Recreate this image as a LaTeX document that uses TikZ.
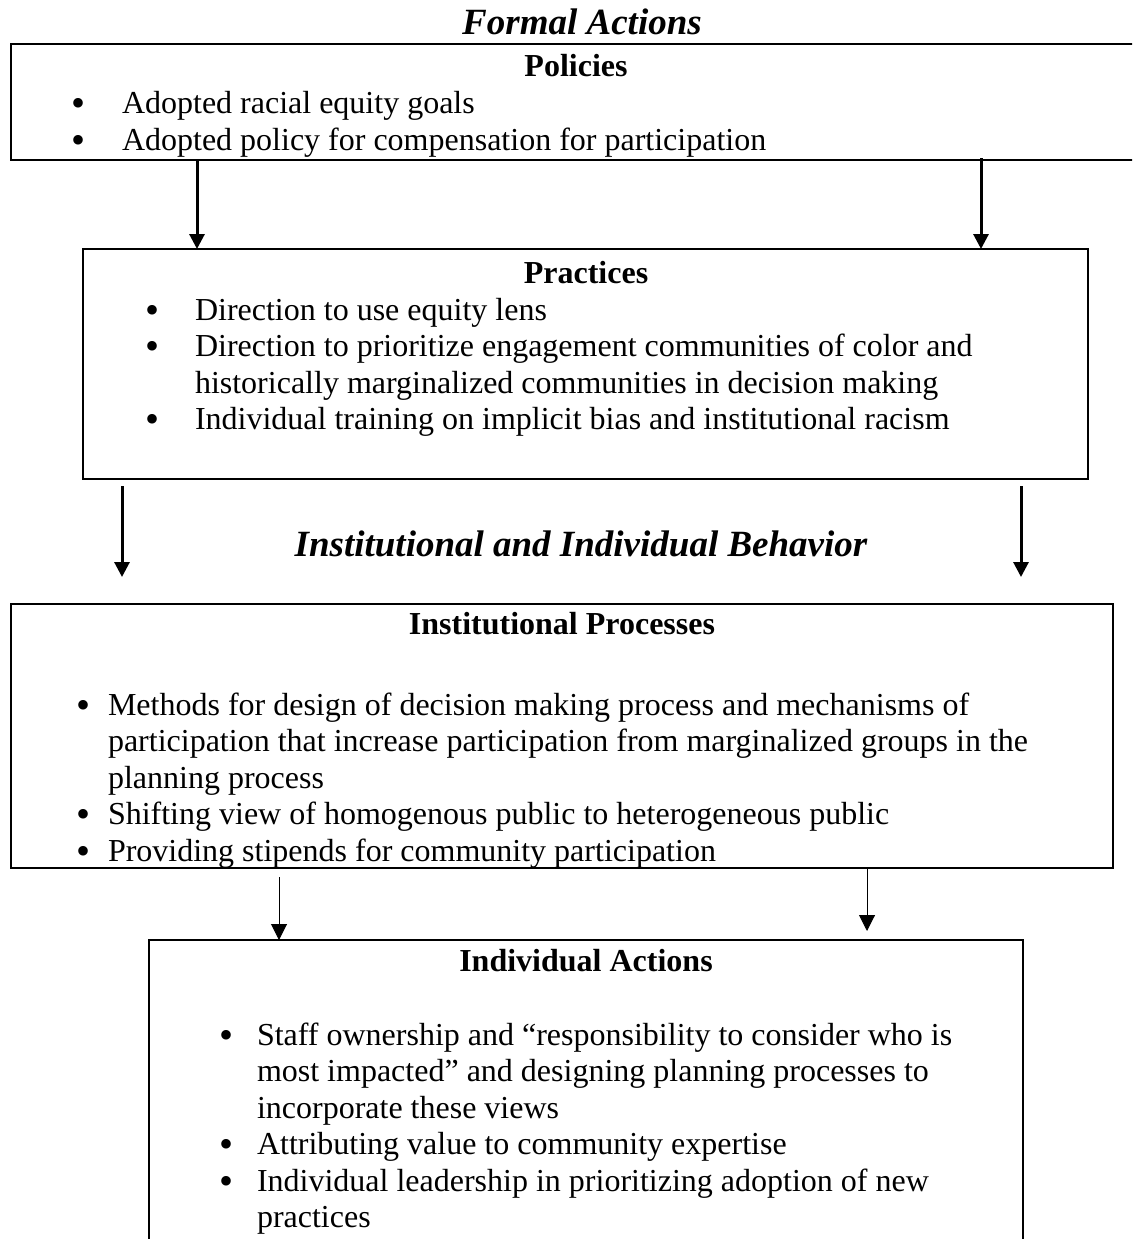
\documentclass[tikz,border=0pt]{standalone}
\usepackage{fontspec}
\setmainfont{Liberation Serif}
\usetikzlibrary{arrows.meta}
\begin{document}
\begin{tikzpicture}[x=1pt,y=-1pt,
  every node/.style={inner sep=0pt, outer sep=0pt},
  body/.style={font=\fontsize{32}{37}\selectfont, anchor=base west},
  bul/.style={font=\fontsize{40}{37}\selectfont, anchor=base, yshift=-3pt},
  head/.style={font=\fontsize{32}{37}\selectfont\bfseries, anchor=base},
  bigtitle/.style={font=\fontsize{37}{43}\selectfont\bfseries\itshape, anchor=base},
  frame/.style={draw, line width=1.5pt, anchor=north west},
  heavyarrow/.style={line width=3pt, -{Triangle[width=15pt,length=15pt]}},
  lightarrow/.style={line width=1pt, -{Triangle[width=16pt,length=16pt]}},
]
\useasboundingbox (0,0) rectangle (1132,1239);
\clip (0,0) rectangle (1132,1239);

% boxes
\node[frame, minimum width=1140pt, minimum height=116pt] (pol) at (11,44) {};
\node[frame, minimum width=1005pt, minimum height=230pt] (prac) at (83,249) {};
\node[frame, minimum width=1102pt, minimum height=264pt] (inst) at (11,604) {};
\node[frame, minimum width=874pt, minimum height=400pt] (indiv) at (149,940) {};

% arrow columns
\coordinate (xa) at (197,0);
\coordinate (xb) at (981,0);
\coordinate (xc) at (122,0);
\coordinate (xd) at (1021,0);
\coordinate (xe) at (279,0);
\coordinate (xf) at (867,0);

% section titles
\node[bigtitle] (t1) at (582,35) {Formal Actions};
\node[bigtitle] (t2) at (581,556) {Institutional and Individual Behavior};

% Policies
\node[head] (polh) at (576,76) {Policies};
\node[bul] (polb1) at (79,113) {•};
\node[body] (pol1) at (122,113) {Adopted racial equity goals};
\node[bul] (polb2) at (79,150) {•};
\node[body] (pol2) at (122,150) {Adopted policy for compensation for participation};

% Practices
\node[head] (prach) at (586,283) {Practices};
\node[bul] (pracb1) at (153,320) {•};
\node[body] (prac1) at (195,320) {Direction to use equity lens};
\node[bul] (pracb2) at (153,356.5) {•};
\node[body] (prac2) at (195,356.5) {Direction to prioritize engagement communities of color and};
\node[body] (prac3) at (195,393) {historically marginalized communities in decision making};
\node[bul] (pracb4) at (153,429.5) {•};
\node[body] (prac4) at (195,429.5) {Individual training on implicit bias and institutional racism};

% Institutional Processes
\node[head] (insth) at (562,634) {Institutional Processes};
\node[bul] (instb1) at (84,715) {•};
\node[body] (inst1) at (108,715) {Methods for design of decision making process and mechanisms of};
\node[body] (inst2) at (108,751.5) {participation that increase participation from marginalized groups in the};
\node[body] (inst3) at (108,788) {planning process};
\node[bul] (instb4) at (84,824.5) {•};
\node[body] (inst4) at (108,824.5) {Shifting view of homogenous public to heterogeneous public};
\node[bul] (instb5) at (84,861) {•};
\node[body] (inst5) at (108,861) {Providing stipends for community participation};

% Individual Actions
\node[head] (indivh) at (586,971) {Individual Actions};
\node[bul] (indivb1) at (226,1045) {•};
\node[body] (indiv1) at (257,1045) {Staff ownership and “responsibility to consider who is};
\node[body] (indiv2) at (257,1081.5) {most impacted” and designing planning processes to};
\node[body] (indiv3) at (257,1118) {incorporate these views};
\node[bul] (indivb4) at (226,1154.5) {•};
\node[body] (indiv4) at (257,1154.5) {Attributing value to community expertise};
\node[bul] (indivb5) at (226,1191) {•};
\node[body] (indiv5) at (257,1191) {Individual leadership in prioritizing adoption of new};
\node[body] (indiv6) at (257,1227.5) {practices};

% connectors
\draw[heavyarrow] (pol.south -| xa) -- (prac.north -| xa);
\draw[heavyarrow, shorten <=-2pt] (pol.south -| xb) -- (prac.north -| xb);
\draw[heavyarrow, shorten <=7pt, shorten >=27pt] (prac.south -| xc) -- (inst.north -| xc);
\draw[heavyarrow, shorten <=7pt, shorten >=27pt] (prac.south -| xd) -- (inst.north -| xd);
\draw[lightarrow, shorten <=9pt] (inst.south -| xe) -- (indiv.north -| xe);
\draw[lightarrow, shorten >=9pt] (inst.south -| xf) -- (indiv.north -| xf);
\end{tikzpicture}
\end{document}
